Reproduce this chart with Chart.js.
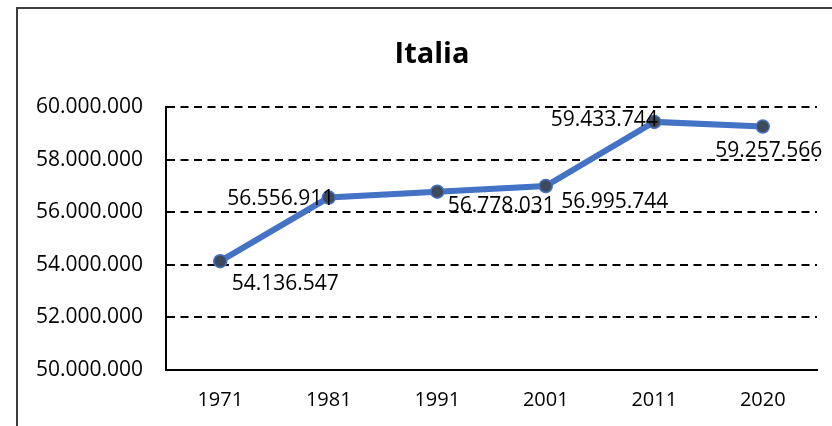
<!DOCTYPE html>
<html>
<head>
<meta charset="utf-8">
<script src="https://cdn.jsdelivr.net/npm/chart.js@4/dist/chart.umd.min.js"></script>
<style>
  html, body { margin: 0; padding: 0; background: #ffffff; }
  canvas { display: block; }
</style>
</head>
<body>
<canvas id="c" width="832" height="426"></canvas>
<script>
// ---- data ----
const chartTitle = "Italia";
const years = ["1971", "1981", "1991", "2001", "2011", "2020"];
const population = [54136547, 56556911, 56778031, 56995744, 59433744, 59257566];
const yMin = 50000000;
const yMax = 60000000;
const yStep = 2000000;

function fmt(v) {
  return String(Math.round(v)).replace(/\B(?=(\d{3})+(?!\d))/g, ".");
}

// label placement relative to each point (pixels)
const labelOffsets = [[65, 23], [-48, 1], [64, 14], [69, 16], [-50, -2], [6, 24]];

const framePlugin = {
  id: "frame",
  beforeDraw(chart) {
    const ctx = chart.ctx;
    ctx.save();
    ctx.fillStyle = "#ffffff";
    ctx.fillRect(0, 0, chart.width, chart.height);
    ctx.strokeStyle = "#3c3c3c";
    ctx.lineWidth = 2;
    ctx.beginPath();
    ctx.moveTo(17, chart.height + 5);
    ctx.lineTo(17, 8);
    ctx.lineTo(chart.width + 5, 8);
    ctx.stroke();
    ctx.restore();
  },
  afterDraw(chart) {
    const ctx = chart.ctx;
    ctx.save();
    ctx.fillStyle = "#000000";
    ctx.font = "bold 29px 'Open Sans'";
    ctx.textAlign = "center";
    ctx.textBaseline = "alphabetic";
    ctx.fillText(chartTitle, 432, 63);
    ctx.restore();
  }
};

const labelPlugin = {
  id: "pointLabels",
  afterDatasetsDraw(chart) {
    const ctx = chart.ctx;
    const meta = chart.getDatasetMeta(0);
    ctx.save();
    ctx.fillStyle = "#000000";
    ctx.font = "21px 'Open Sans'";
    ctx.textAlign = "center";
    ctx.textBaseline = "middle";
    meta.data.forEach((pt, i) => {
      const off = labelOffsets[i];
      ctx.fillText(fmt(population[i]), pt.x + off[0], pt.y + off[1]);
    });
    ctx.restore();
  }
};

new Chart(document.getElementById("c"), {
  type: "line",
  data: {
    labels: years,
    datasets: [{
      data: population,
      borderColor: "#4472C4",
      borderWidth: 6,
      pointRadius: 6.5,
      pointHoverRadius: 6.5,
      pointBackgroundColor: "#3D4A5C",
      pointBorderColor: "#4472C4",
      pointBorderWidth: 1.5,
      tension: 0,
      fill: false,
      clip: false
    }]
  },
  options: {
    responsive: false,
    animation: false,
    devicePixelRatio: 1,
    layout: { padding: { top: 107, right: 15, left: 0, bottom: 0 } },
    plugins: {
      legend: { display: false },
      title: { display: false },
      tooltip: { enabled: false }
    },
    scales: {
      x: {
        offset: true,
        grid: { display: false, drawTicks: false },
        border: { display: true, color: "#000000", width: 2 },
        ticks: {
          padding: 18,
          color: "#000000",
          font: { family: "'Open Sans'", size: 20 },
          maxRotation: 0
        },
        afterFit(scale) { scale.height = 56; }
      },
      y: {
        min: yMin,
        max: yMax,
        grid: { color: "#000000", lineWidth: 2, drawTicks: false },
        border: { display: true, color: "#000000", width: 2, dash: [8, 5.5] },
        ticks: {
          stepSize: yStep,
          padding: 23,
          color: "#000000",
          font: { family: "'Open Sans'", size: 21 },
          callback: (v) => fmt(v)
        },
        afterFit(scale) { scale.width = 166; }
      }
    }
  },
  plugins: [framePlugin, labelPlugin]
});
</script>
</body>
</html>
